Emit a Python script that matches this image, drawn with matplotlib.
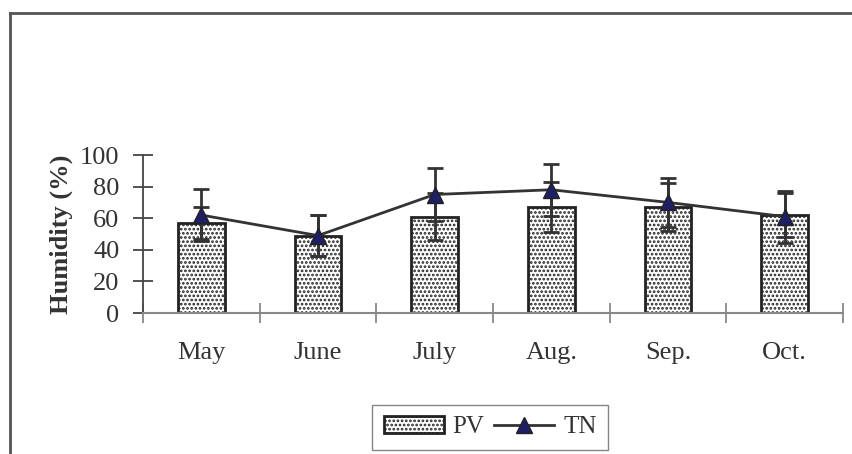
import matplotlib.pyplot as plt
import numpy as np
from matplotlib.lines import Line2D

plt.rcParams['font.family'] = ['Liberation Serif', 'DejaVu Serif']
plt.rcParams['hatch.linewidth'] = 1.3
plt.rcParams['hatch.color'] = '#333333'

# data
months = ['May', 'June', 'July', 'Aug.', 'Sep.', 'Oct.']
pv = [57, 49, 61, 67, 67, 62]
pv_err = [10, 13, 15, 16, 15, 14]
tn = [62, 49, 75, 78, 70, 61]
tn_err = [16.5, 13, 17, 16.5, 15.5, 16.5]

W, H = 852, 454
fig = plt.figure(figsize=(W / 100, H / 100), dpi=100)
ax = fig.add_axes([143 / W, 1 - 313 / H, 700 / W, 158 / H])

x = np.arange(len(months))
dark = '#333333'

bars = ax.bar(x, pv, width=0.4, color='white', edgecolor='#222222', linewidth=2,
              hatch='....', zorder=2, label='PV')
ax.errorbar(x, pv, yerr=pv_err, fmt='none', ecolor=dark, elinewidth=2,
            capsize=6, capthick=2, zorder=3)
ax.errorbar(x, tn, yerr=tn_err, fmt='none', ecolor=dark, elinewidth=2,
            capsize=6, capthick=2, zorder=4)
line, = ax.plot(x, tn, color=dark, linewidth=2, marker='^', markersize=12,
                markerfacecolor='#1f1f66', markeredgecolor='#222222', zorder=5,
                label='TN')

ax.set_xlim(-0.5, len(months) - 0.5)
ax.set_ylim(0, 100)
ax.set_yticks(range(0, 101, 20))
ax.set_xticks(np.arange(-0.5, len(months), 1))
ax.set_xticklabels([])
ax.set_xticks(x, minor=True)
ax.set_xticklabels(months, minor=True)

for s in ['top', 'right']:
    ax.spines[s].set_visible(False)
ax.spines['left'].set_color('#444444')
ax.spines['bottom'].set_color('#888888')
ax.spines['left'].set_linewidth(1.3)
ax.spines['bottom'].set_linewidth(1.5)

ax.tick_params(axis='y', direction='inout', length=14, width=1.3, color='#444444',
               labelsize=19, labelcolor=dark, pad=10)
ax.tick_params(axis='x', which='major', direction='inout', length=14, width=1.3,
               color='#888888')
ax.tick_params(axis='x', which='minor', length=0, labelsize=19, labelcolor=dark,
               pad=21)

ax.set_ylabel('Humidity (%)', fontsize=19, fontweight='bold', color=dark,
              labelpad=5)

fig.legend([bars, line], ['PV', 'TN'], loc='center',
           bbox_to_anchor=(490 / W, 1 - 427 / H), ncol=2,
           fontsize=18, frameon=True, fancybox=False, edgecolor='#666666',
           handlelength=2.4, handletextpad=0.35, columnspacing=0.4,
           borderpad=0.45, labelcolor=dark)

# outer frame (only top and left edges are inside the picture)
fig.add_artist(Line2D([10 / W, 1], [1 - 13 / H, 1 - 13 / H], color='#555555',
                      linewidth=2))
fig.add_artist(Line2D([10 / W, 10 / W], [0, 1 - 13 / H], color='#555555',
                      linewidth=2))

fig.savefig('out.png', dpi=100)
